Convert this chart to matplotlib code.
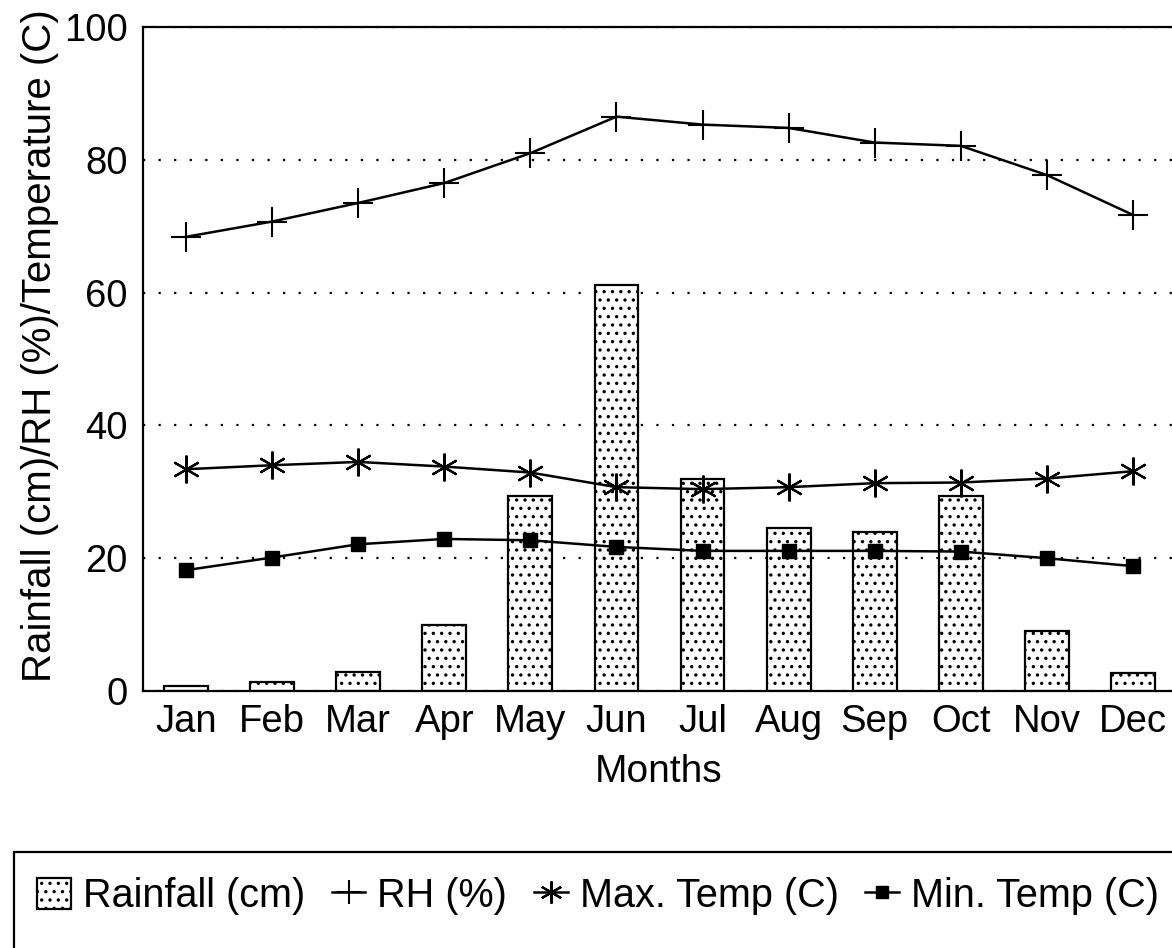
import matplotlib
matplotlib.use('Agg')
import matplotlib.pyplot as plt
from matplotlib.patches import Rectangle
import numpy as np

# Data
months = ['Jan', 'Feb', 'Mar', 'Apr', 'May', 'Jun', 'Jul', 'Aug', 'Sep', 'Oct', 'Nov', 'Dec']
rainfall = [0.7, 1.3, 2.8, 9.9, 29.3, 61.2, 32.0, 24.5, 23.9, 29.3, 9.0, 2.7]
rh = [68.4, 70.7, 73.5, 76.5, 81.0, 86.5, 85.3, 84.8, 82.6, 82.1, 77.7, 71.7]
max_temp = [33.4, 34.0, 34.5, 33.8, 32.9, 30.7, 30.4, 30.7, 31.3, 31.4, 32.0, 33.1]
min_temp = [18.2, 20.1, 22.1, 22.9, 22.7, 21.7, 21.1, 21.1, 21.1, 21.0, 20.0, 18.8]
yticks = [0, 20, 40, 60, 80, 100]

plt.rcParams['font.family'] = ['Liberation Sans', 'DejaVu Sans']
plt.rcParams['hatch.linewidth'] = 1.2

fig = plt.figure(figsize=(11.72, 9.48), dpi=100)
ax = fig.add_axes([143 / 1172, 1 - 691 / 948, 1033 / 1172, 664 / 948])

x = np.arange(len(months))

bars = ax.bar(x, rainfall, width=0.51, color='white', edgecolor='black',
              hatch='..', linewidth=1.6, zorder=2, label='Rainfall (cm)')
l_rh, = ax.plot(x, rh, color='black', lw=1.8, marker='+', markersize=22, mew=1.5,
                zorder=3, label='RH (%)')
l_max, = ax.plot(x, max_temp, color='black', lw=1.8, marker=(6, 2, 0), markersize=20,
                 mew=1.6, zorder=3, label='Max. Temp (C)')
l_min, = ax.plot(x, min_temp, color='black', lw=1.8, marker='s', markersize=10,
                 mfc='black', mec='black', zorder=3, label='Min. Temp (C)')

ax.set_xlim(-0.5, 11.5)
ax.set_ylim(0, 100)
ax.set_yticks(yticks)
ax.set_xticks(x)
ax.set_xticklabels(months)
ax.tick_params(axis='both', length=0, labelsize=27.5, colors='black')
ax.tick_params(axis='y', pad=11)
ax.tick_params(axis='x', pad=9)

ax.set_axisbelow(True)
ax.yaxis.grid(True, color='black', linestyle=(0, (1, 6)), linewidth=1.6)
ax.spines['right'].set_visible(False)
for side in ['left', 'bottom', 'top']:
    ax.spines[side].set_linewidth(1.6)

fig.text(40 / 1172, 1 - 346 / 948, 'Rainfall (cm)/RH (%)/Temperature (C)',
         rotation=90, ha='center', va='center', fontsize=29)
fig.text(659 / 1172, 1 - 772 / 948, 'Months', ha='center', va='center', fontsize=28)

# Legend box (cut off by the page edge in the original)
fig.patches.append(Rectangle((14 / 1172, -0.05), 1.2, (948 - 852) / 948 + 0.05,
                             transform=fig.transFigure, fill=False,
                             edgecolor='black', linewidth=1.6))
fig.legend(handles=[bars, l_rh, l_max, l_min],
           loc='center left', bbox_to_anchor=(37 / 1172, 1 - 896 / 948),
           ncol=4, frameon=False, fontsize=28.5, borderpad=0, borderaxespad=0,
           handlelength=0.85, handleheight=0.85, handletextpad=0.3,
           columnspacing=0.68, markerscale=0.8)

fig.savefig('out.png', dpi=100)
